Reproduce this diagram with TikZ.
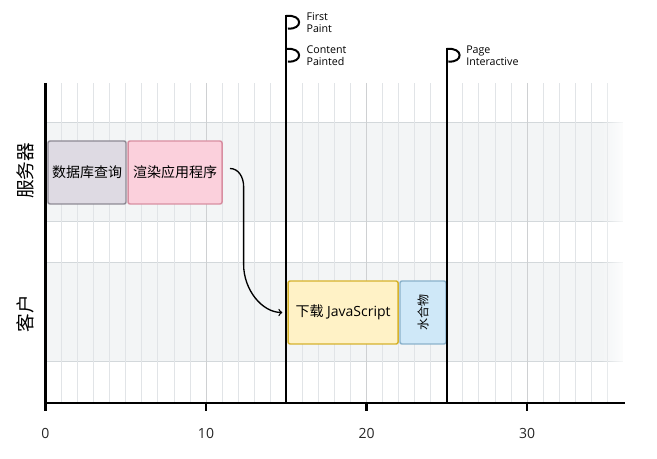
\documentclass[tikz,border=0pt]{standalone}
\usepackage{fontspec}
\setmainfont{Open Sans}
\newfontfamily\cjk{Noto Sans CJK SC}
\usetikzlibrary{fadings}

\definecolor{gridgray}{HTML}{E1E4E7}
\definecolor{lanefill}{HTML}{F3F5F6}
\definecolor{laneline}{HTML}{D3D8DB}
\definecolor{dbfill}{HTML}{DEDAE3}
\definecolor{dbline}{HTML}{8E8A94}
\definecolor{renderfill}{HTML}{FBD0DC}
\definecolor{renderline}{HTML}{D88EA1}
\definecolor{jsfill}{HTML}{FFF2C6}
\definecolor{jsline}{HTML}{D6B22C}
\definecolor{hydfill}{HTML}{CFE8F8}
\definecolor{hydline}{HTML}{8AB2CB}

\begin{document}
\begin{tikzpicture}[x=12.0375pt, y=-0.75pt, every node/.style={font=\small},
    grid/.style={gridgray, line width=0.6pt},
    axis/.style={black, line width=2.2pt},
    pole/.style={black, line width=1.5pt},
    box/.style={draw, line width=1.1pt, rounded corners=1.5pt, inner sep=0pt, minimum height=47.25pt},
    flaglabel/.style={anchor=west, align=left, inner sep=0pt, font=\fontsize{8}{9}\selectfont},
    lanelabel/.style={rotate=90, font=\cjk\fontsize{14}{14}\selectfont},
    ticklabel/.style={font=\fontsize{10.5}{11}\selectfont, text=black!85}]
  \useasboundingbox (-2.835,0) rectangle (38.1,459);

  % Lanes
  \fill[lanefill] (0,122) rectangle (36,221);
  \fill[lanefill] (0,262) rectangle (36,361);
  \foreach \yy in {122,221,262,361}
    \draw[laneline, line width=0.6pt] (0,\yy) -- (36,\yy);

  % Grid
  \foreach \i in {1,...,35}
    \draw[grid] (\i,83) -- (\i,403);
  \foreach \i in {10,20,30}
    \draw[gridgray!80!gray, line width=0.7pt] (\i,83) -- (\i,403);
  \fill[white, path fading=west] (34.6,83) rectangle (36.3,401);

  % Lane names
  \node[lanelabel] (server) at (-1.28,171) {服务器};
  \node[lanelabel] (client) at (-1.28,314) {客户};

  % Server tasks
  \node[box, fill=dbfill, draw=dbline, minimum width=58.5pt] (db) at (2.586,172.5)
    {\cjk\fontsize{10.5}{11}\selectfont 数据库查询};
  \node[box, fill=renderfill, draw=renderline, minimum width=70.5pt] (render) at (8.07,172.5)
    {\cjk\fontsize{10.5}{11}\selectfont 渲染应用程序};

  % Client tasks
  \node[box, fill=jsfill, draw=jsline, minimum width=82.5pt] (js) at (18.54,312.5)
    {\fontsize{10.5}{11}\selectfont{\cjk 下载} JavaScript};
  \node[box, fill=hydfill, draw=hydline, rotate=90, minimum width=47.25pt, minimum height=34.5pt,
    font=\cjk\fontsize{9}{9}\selectfont] (hydrate) at (23.52,312.5) {水合物};

  % Hand-off
  \draw[->, line width=1pt, shorten >=3.75pt] (render.east) ++(0.45,-4)
    to[out=0,in=90] ++(0.85,18) -- ++(0,78) to[out=-90,in=180] (js.west);

  % Milestones
  \draw[pole] (15,403) -- (15,15);
  \draw[pole] (15,16) .. controls (16.05,14) and (16.05,30) .. (15.1,28.5);
  \draw[pole] (15,49) .. controls (16.05,47) and (16.05,63) .. (15.1,61.5);
  \draw[pole] (25,403) -- (25,48);
  \draw[pole] (25,49) .. controls (26.05,47) and (26.05,63) .. (25.1,61.5);
  \node[flaglabel] (fp) at (16.25,22.5) {First\\Paint};
  \node[flaglabel] (cp) at (16.25,56) {Content\\Painted};
  \node[flaglabel] (pi) at (26.2,56) {Page\\Interactive};

  % Axes
  \draw[axis] (0,83) -- (0,403) -- (36.1,403);
  \foreach \t in {0,10,20,30}
    \draw[axis, line width=1.8pt] (\t,403) -- (\t,411) node[ticklabel] (t\t) at (\t,433) {\t};
\end{tikzpicture}
\end{document}
